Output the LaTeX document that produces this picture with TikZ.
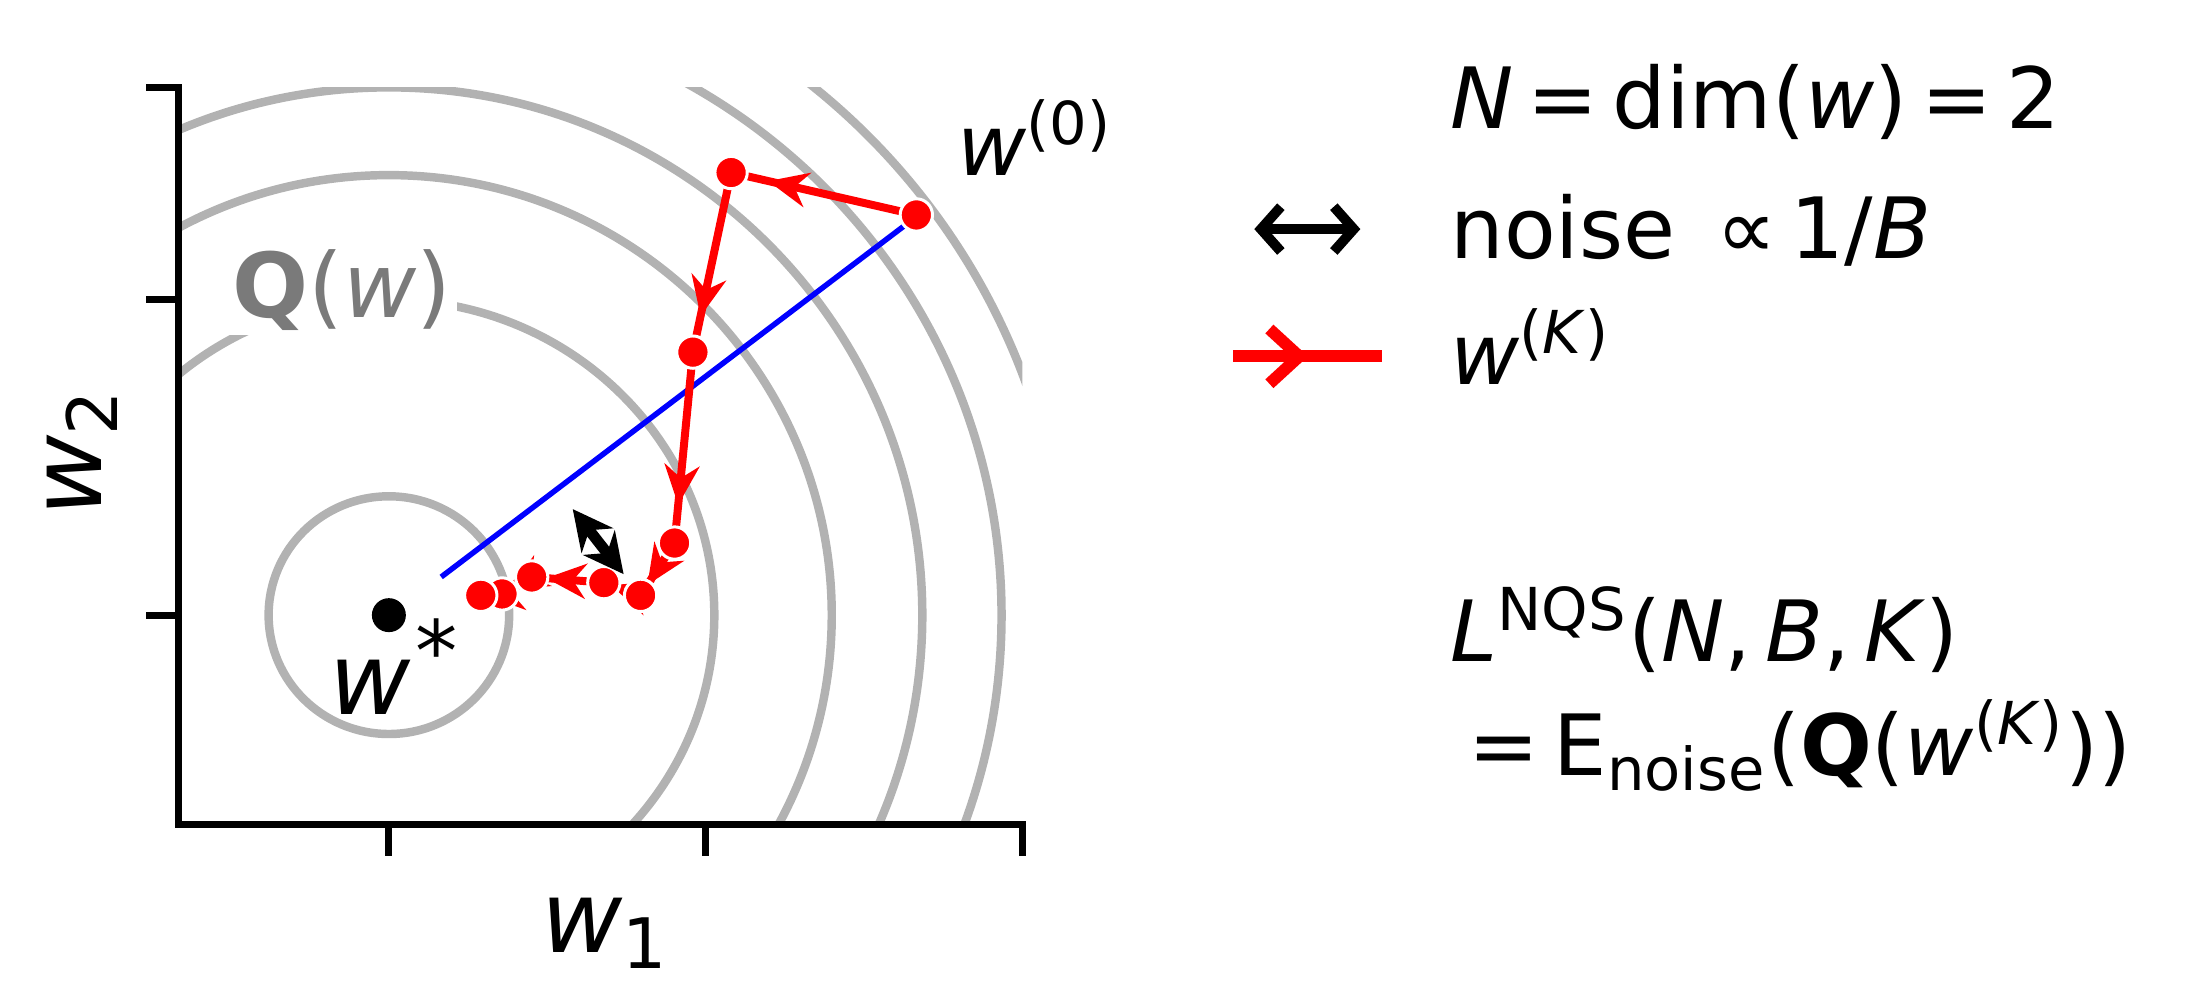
\documentclass[tikz,border=0pt]{standalone}
\usepackage{fontspec}
\setmainfont{DejaVu Sans}
\usetikzlibrary{arrows.meta,decorations.markings}
\newcommand\sps[1]{\textsuperscript{#1}}
\newcommand\sbs[1]{\textsubscript{#1}}
\begin{document}
\begin{tikzpicture}[x=0.01cm,y=-0.01cm,
    contour/.style={line width=1.7pt, color=black!30},
    axis/.style={line width=1.4pt, line cap=rect},
    sgdstep/.style={red, line width=1.6pt, postaction={decorate},
        decoration={markings, mark=at position 0.8 with {\arrow{Stealth[length=8pt,width=7pt]}}}},
    iter/.style={shape=circle, inner sep=0pt, minimum size=6.5pt, fill=red, draw=white, line width=0.6pt},
    lbl/.style={font=\fontsize{17}{20}\selectfont, inner sep=0pt}
    ]
    \useasboundingbox (0,0) rectangle (1560,708);
    \coordinate (wstar) at (275,435);

    % contours of Q(w)
    \begin{scope}
        \clip (126,62) rectangle (723,583);
        \foreach \rx/\ry in {0.85/0.84,2.30/2.23,3.13/3.11,3.77/3.73,4.33/4.30,4.79/4.79}
            \draw [contour] (wstar) ellipse [x radius=\rx cm, y radius=\ry cm];
    \end{scope}

    % axes
    \draw [axis] (126,62) -- (126,583) -- (723,583);
    \foreach \x in {275,499,723} \draw [axis] (\x,583) -- (\x,603);
    \foreach \y in {62,212,435} \draw [axis] (126,\y) -- (106,\y);
    \node [lbl, font=\fontsize{20}{24}\selectfont] (xlab) at (428,660) {\textit{w}\sbs{1}};
    \node [lbl, font=\fontsize{20}{24}\selectfont, rotate=90] (ylab) at (58,320) {\textit{w}\sbs{2}};

    \node [lbl, fill=white, inner sep=1pt, text=black!52, font=\fontsize{18}{21}\selectfont] (qlab) at (242,205) {\textbf{Q}(\textit{w})};

    % minimiser
    \fill (wstar) circle [radius=0.12cm];
    \node [lbl, font=\fontsize{20}{24}\selectfont] (wslab) at (262,486) {\textit{w}};
    \node [lbl] (wsast) at (309,460) {*};

    % straight line
    \coordinate (b1) at (312,408);
    \coordinate (b2) at (643,157);
    \draw [blue, line width=1.1pt] (b1) -- (b2);

    % SGD iterates
    \foreach \n/\x/\y in {0/648/152,1/517/122,2/490/249,3/477/384,4/453/421,5/427/412,6/376/408,7/355/420,8/340/421}
        \coordinate (p\n) at (\x,\y);
    \foreach \a/\b in {0/1,1/2,2/3,3/4,4/5,5/6,6/7,7/8}
        \draw [sgdstep] (p\a) -- (p\b);
    \foreach \n in {0,...,8}
        \node [iter] (d\n) at (p\n) {};
    \node [lbl] (w0lab) at (732,97) {\textit{w}\sps{(0)}};

    % noise arrow
    \coordinate (n1) at (405,360);
    \coordinate (n2) at (441,406);
    \draw [{Stealth[length=8pt,width=8pt]}-{Stealth[length=8pt,width=8pt]}, line width=2.2pt] (n1) -- (n2);

    % legend
    \node [lbl, anchor=west] (t1) at (1025,72) {\textit{N}\,=\,dim(\textit{w})\,=\,2};
    \node [lbl, anchor=west] (t2) at (1025,163) {noise \,∝\,1/\textit{B}};
    \node [lbl, anchor=west] (t3) at (1025,245) {\textit{w}\sps{(\textit{K})}};
    \coordinate (l1) at (887,162);
    \coordinate (l2) at (962,162);
    \draw [{Straight Barb[length=4pt,width=9pt]}-{Straight Barb[length=4pt,width=9pt]}, line width=2pt] (l1) -- (l2);
    \coordinate (r1) at (872,252);
    \coordinate (r2) at (977,252);
    \coordinate (r3) at (925,252);
    \draw [red, line width=2.4pt] (r1) -- (r2);
    \draw [red, line width=2.4pt, -{Straight Barb[length=6pt,width=11pt]}] (r1) -- (r3);
    \node [lbl, anchor=west] (t4) at (1025,445) {\textit{L}\sps{NQS}(\textit{N},\,\textit{B},\,\textit{K})};
    \node [lbl, anchor=west] (t5) at (1038,527) {=\,E\sbs{noise}(\textbf{Q}(\textit{w}\sps{(\textit{K})}))};
\end{tikzpicture}
\end{document}
